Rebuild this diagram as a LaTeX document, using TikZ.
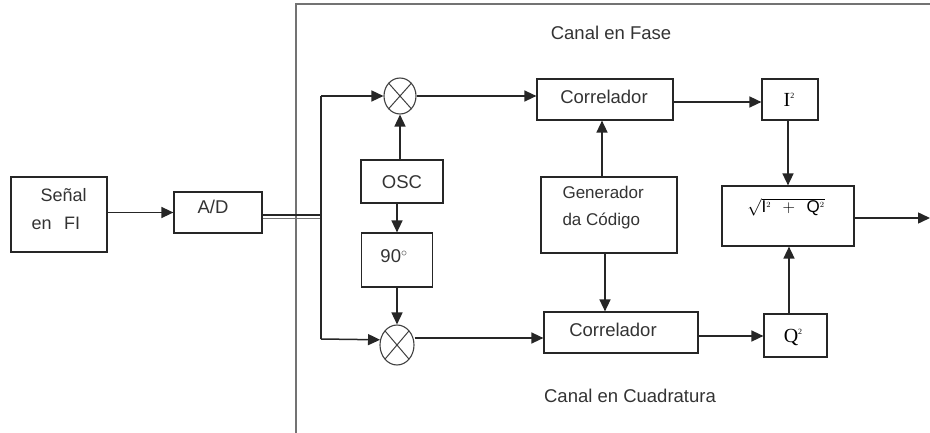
\documentclass[tikz,border=0pt]{standalone}
\usepackage{fontspec}
\setmainfont{Liberation Sans}
\newfontfamily\serifI{Liberation Serif}
\usetikzlibrary{arrows.meta,shapes.geometric}
\tikzset{
  ln/.style={line width=1.5pt, draw=black!85},
  arr/.style={ln, -{Triangle[length=12pt,width=11pt]}},
  blk/.style={draw=black!85, line width=1.2pt, inner sep=0pt},
  lbl/.style={font=\fontsize{18.5}{22}\selectfont, text=black!80},
  mix/.style={ellipse, draw=black!75, line width=1.1pt, minimum width=32pt, minimum height=36pt, inner sep=0pt,
    path picture={\draw[black!75, line width=1pt] (path picture bounding box.north west) -- (path picture bounding box.south east)
      (path picture bounding box.north east) -- (path picture bounding box.south west);}}
}
\begin{document}
\begin{tikzpicture}[x=1pt,y=-1pt]
\useasboundingbox (0,0) rectangle (930,433);
% panel
\draw[black!55, line width=1.2pt] (930,4) -- (296,4) -- (296,433);
\node[lbl] (fase) at (611,33) {Canal en Fase};
\node[lbl] (cuad) at (630,396) {Canal en Cuadratura};
% blocks
\node[blk, minimum width=96pt, minimum height=75pt] (sen) at (59,214.5) {};
\node[lbl, align=left, font=\fontsize{18}{28}\selectfont, anchor=west] (sent) at (28,209) {\hspace*{9pt}Señal\\en\hspace{0.7em}FI};
\node[blk, minimum width=88pt, minimum height=41pt] (ad) at (218,212.5) {};
\node[lbl] (adt) at (213,207) {A/D};
\node[mix] (m1) at (400,96) {};
\node[mix, minimum width=34pt, minimum height=40pt] (m2) at (397,345) {};
\node[blk, minimum width=82pt, minimum height=43pt] (osc) at (402,181.5) {};
\node[lbl] (osct) at (402,182) {OSC};
\node[blk, minimum width=71pt, minimum height=54pt] (ph) at (397,260) {};
\node[lbl] (pht) at (394,256) {90$^{\circ}$};
\node[blk, minimum width=136pt, minimum height=41pt] (c1) at (605,99.5) {};
\node[lbl] (c1t) at (604,97) {Correlador};
\node[blk, minimum width=154pt, minimum height=41pt] (c2) at (621,332.5) {};
\node[lbl] (c2t) at (613,330) {Correlador};
\node[blk, minimum width=136pt, minimum height=76pt] (gen) at (609,215) {};
\node[lbl, align=left, font=\fontsize{17}{27}\selectfont, anchor=west] (gent) at (559,208) {Generador\\da Código};
\node[blk, minimum width=56pt, minimum height=41pt] (i2) at (790,99.5) {};
\node (i2t) at (789,100) {\fontsize{20}{22}\selectfont\serifI I\raisebox{8pt}{\fontsize{8}{9}\selectfont 2}};
\node[blk, minimum width=63pt, minimum height=43pt] (q2) at (795.5,335.5) {};
\node (q2t) at (793,337) {\fontsize{20}{22}\selectfont\serifI Q\raisebox{8pt}{\fontsize{8}{9}\selectfont 2}};
\node[blk, minimum width=132pt, minimum height=60pt] (sq) at (788,216) {};
\node (sqt) at (786,207) {\fontsize{17}{19}\selectfont$\sqrt{\mathrm{I}^{\scriptscriptstyle 2}\;\,+\;\,\mathrm{Q}^{\scriptscriptstyle 2}}$};
% connectors
\coordinate (jt) at (321,96);
\coordinate (jb) at (321,339);
\coordinate (out) at (930,218);
\draw[arr] (sen.east |- ad.west) -- (ad.west);
\draw[line width=1.8pt, black!85] (ad.east |- 0,215) -- (322,215);
\draw[line width=0.8pt, black!55] (ad.east |- 0,218.5) -- (320,218.5);
\draw[ln] (jt) -- (jb);
\draw[arr] (jt) -- (m1.west);
\draw[arr] (jb) -- (m2.163);
\draw[arr] (osc.north -| m1.south) -- (m1.south);
\draw[arr] (osc.south -| ph.north) -- (ph.north);
\draw[arr] (ph.south) -- (m2.north);
\draw[arr] (m1.east) -- (c1.west |- m1.east);
\draw[arr] (m2.east |- 0,338) -- (c2.west |- 0,338);
\draw[arr] (gen.north -| 602,0) -- (c1.south -| 602,0);
\draw[arr] (gen.south -| 605,0) -- (c2.north -| 605,0);
\draw[arr] (c1.east |- 0,102) -- (i2.west |- 0,102);
\draw[arr] (c2.east |- 0,336) -- (q2.west |- 0,336);
\draw[arr] (i2.south -| 788,0) -- (sq.north -| 788,0);
\draw[arr] (q2.north -| 789,0) -- (sq.south -| 789,0);
\draw[arr] (sq.east |- out) -- (out);
\end{tikzpicture}
\end{document}
